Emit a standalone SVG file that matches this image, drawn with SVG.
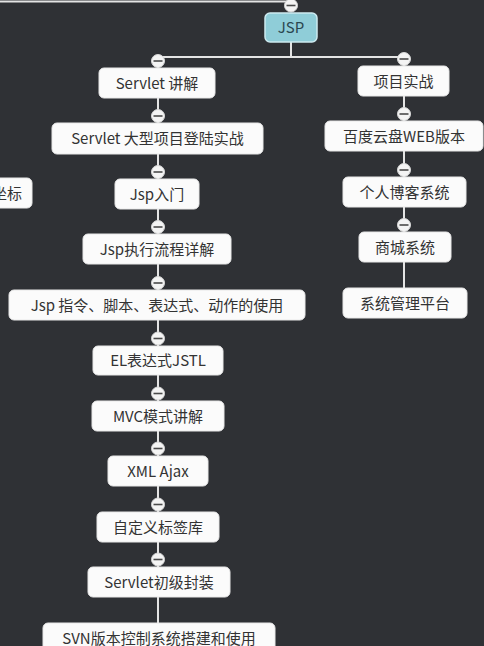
<svg xmlns="http://www.w3.org/2000/svg" width="484" height="646" viewBox="0 0 484 646">
<style>
.bg{fill:#2f3135}
.c{fill:none;stroke:#e4e4e4;stroke-width:2}
.n{fill:#fbfbfb;stroke:#e8e8e8;stroke-width:1}
.t{font-family:"Noto Sans CJK SC","Noto Sans",sans-serif;font-size:15px;fill:#333;text-anchor:middle}
.tg circle{fill:#f4f4f4;stroke:#d8d8d8;stroke-width:1}
.tg line{stroke:#4a4a4a;stroke-width:1.6}
</style>
<defs>
<g id="tog" class="tg"><circle r="6.5"/><line x1="-4.5" y1="0" x2="4.5" y2="0"/></g>
</defs>
<rect class="bg" x="0" y="0" width="484" height="646"/>
<g id="connectors">
<path class="c" d="M0 1.5 H291 V6"/>
<path class="c" d="M291 42 V57"/>
<path class="c" d="M158 57 H404"/>
<path class="c" d="M158 57 V623"/>
<path class="c" d="M404 57 V288"/>
</g>
<g id="n-left-partial">
<rect class="n" x="-60" y="178" width="92" height="30" rx="5"/>
<text class="t" x="7" y="198.5">坐标</text>
</g>
<g id="n-jsp">
<use href="#tog" x="291" y="5.5"/>
<rect x="265" y="13" width="52" height="29" rx="5" fill="#8fcdd8" stroke="#cdeaf0" stroke-width="1.5"/>
<text class="t" x="291" y="33" style="fill:#2b4750">JSP</text>
</g>
<g id="n-servlet">
<use href="#tog" x="158" y="61"/>
<rect class="n" x="99" y="68" width="116" height="30" rx="5"/>
<text class="t" x="157" y="88.5">Servlet 讲解</text>
</g>
<g id="n-servlet-project">
<use href="#tog" x="158" y="116"/>
<rect class="n" x="52" y="123" width="211" height="31" rx="5"/>
<text class="t" x="157.5" y="144">Servlet 大型项目登陆实战</text>
</g>
<g id="n-jsp-intro">
<use href="#tog" x="158" y="172"/>
<rect class="n" x="115" y="179" width="84" height="30" rx="5"/>
<text class="t" x="157" y="199.5">Jsp入门</text>
</g>
<g id="n-jsp-flow">
<use href="#tog" x="158" y="227"/>
<rect class="n" x="83" y="234" width="148" height="30" rx="5"/>
<text class="t" x="157" y="254.5">Jsp执行流程详解</text>
</g>
<g id="n-jsp-directive">
<use href="#tog" x="158" y="283"/>
<rect class="n" x="9" y="290" width="296" height="30" rx="5"/>
<text class="t" x="157" y="310.5">Jsp 指令、脚本、表达式、动作的使用</text>
</g>
<g id="n-el">
<use href="#tog" x="158" y="338.5"/>
<rect class="n" x="93" y="346" width="130" height="29" rx="5"/>
<text class="t" x="158" y="366">EL表达式JSTL</text>
</g>
<g id="n-mvc">
<use href="#tog" x="158" y="393.5"/>
<rect class="n" x="92" y="401" width="132" height="30" rx="5"/>
<text class="t" x="158" y="421.5">MVC模式讲解</text>
</g>
<g id="n-xml">
<use href="#tog" x="158" y="448.5"/>
<rect class="n" x="108" y="456" width="100" height="30" rx="5"/>
<text class="t" x="158" y="476.5">XML Ajax</text>
</g>
<g id="n-taglib">
<use href="#tog" x="158" y="504.5"/>
<rect class="n" x="97" y="512" width="122" height="30" rx="5"/>
<text class="t" x="158" y="532.5">自定义标签库</text>
</g>
<g id="n-servlet-wrap">
<use href="#tog" x="158" y="559.5"/>
<rect class="n" x="88" y="567" width="142" height="30" rx="5"/>
<text class="t" x="159" y="587.5">Servlet初级封装</text>
</g>
<g id="n-svn">
<rect class="n" x="43" y="623" width="232" height="30" rx="5"/>
<text class="t" x="159" y="643.5">SVN版本控制系统搭建和使用</text>
</g>
<g id="n-practice">
<use href="#tog" x="404" y="59"/>
<rect class="n" x="358" y="66" width="91" height="30" rx="5"/>
<text class="t" x="403.5" y="86.5">项目实战</text>
</g>
<g id="n-baidu">
<use href="#tog" x="404" y="114"/>
<rect class="n" x="325" y="121" width="158" height="30" rx="5"/>
<text class="t" x="404" y="141.5">百度云盘WEB版本</text>
</g>
<g id="n-blog">
<use href="#tog" x="404" y="170"/>
<rect class="n" x="343" y="177" width="123" height="30" rx="5"/>
<text class="t" x="404.5" y="197.5">个人博客系统</text>
</g>
<g id="n-shop">
<use href="#tog" x="404" y="225"/>
<rect class="n" x="359" y="232" width="92" height="30" rx="5"/>
<text class="t" x="405" y="252.5">商城系统</text>
</g>
<g id="n-admin">
<rect class="n" x="343" y="288" width="124" height="30" rx="5"/>
<text class="t" x="405" y="308.5">系统管理平台</text>
</g>
</svg>
